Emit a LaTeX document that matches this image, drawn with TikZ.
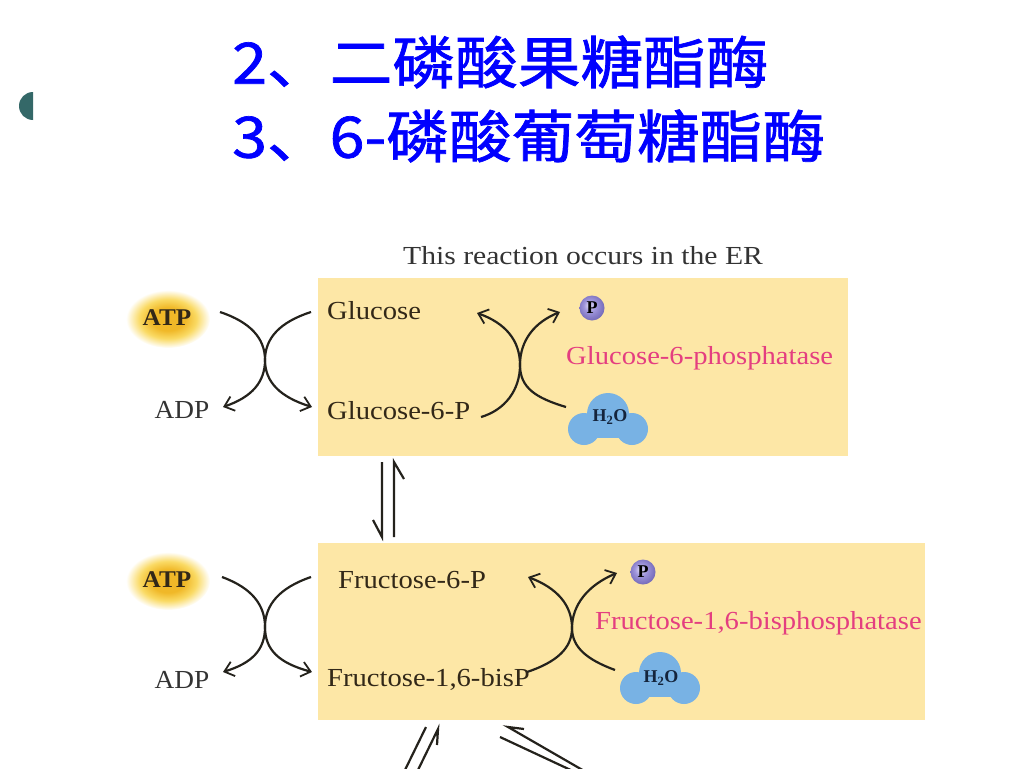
\documentclass[tikz,border=0pt]{standalone}
\usepackage{fontspec}
\setmainfont{Liberation Serif}
\newfontfamily\cjk[FakeBold=1.2]{Noto Sans CJK SC}
\usetikzlibrary{arrows.meta}
\definecolor{boxfill}{RGB}{253,231,166}
\definecolor{enz}{RGB}{228,62,128}
\definecolor{water}{RGB}{120,178,228}
\definecolor{lblc}{RGB}{50,40,24}
\definecolor{arrc}{RGB}{36,34,28}
\definecolor{bulc}{RGB}{52,104,104}
\definecolor{titleblue}{RGB}{0,0,255}
\definecolor{atpc}{RGB}{240,184,40}
\definecolor{atpm}{RGB}{250,218,100}
\definecolor{pin}{RGB}{228,224,248}
\definecolor{pmid}{RGB}{160,150,220}
\definecolor{pout}{RGB}{110,100,180}
\definecolor{h2oc}{RGB}{20,36,60}
\pgfdeclareradialshading{atpglow}{\pgfpoint{0bp}{0bp}}{color(0bp)=(atpc); color(10bp)=(atpc); color(17bp)=(atpm); color(25bp)=(white); color(50bp)=(white)}
\pgfdeclareradialshading{pball}{\pgfpoint{-6bp}{6bp}}{color(0bp)=(pin); color(12bp)=(pmid); color(30bp)=(pout); color(50bp)=(pout)}
\begin{document}
\begin{tikzpicture}[x=1pt,y=-1pt,
  lbl/.style={font=\fontsize{26}{30}\selectfont, text=lblc, inner sep=0pt, anchor=west, xscale=1.1},
  enzlbl/.style={font=\fontsize{26}{30}\selectfont, text=enz, inner sep=0pt, anchor=west, xscale=1.1},
  small/.style={font=\bfseries\fontsize{18}{20}\selectfont, text=h2oc, inner sep=0pt},
  ttl/.style={font=\cjk\fontsize{57}{60}\selectfont, text=titleblue, inner sep=0pt, anchor=west, xscale=1.1},
  crossarr/.style={draw=arrc, line width=2.2pt, -{Straight Barb[length=9pt,width=15pt,line width=1.8pt]}},
  eqline/.style={draw=arrc, line width=2.2pt},
  water/.style={fill=water}
]
\path[use as bounding box] (0,0) rectangle (1024,768);
% bullet
\fill[bulc] (33,92) arc[start angle=90, end angle=270, x radius=14, y radius=-14] -- cycle;
% titles
\node[ttl] (t1) at (232,62) {2、二磷酸果糖酯酶};
\node[ttl] (t2) at (232,136) {3、6-磷酸葡萄糖酯酶};
% caption
\node[font=\fontsize{26}{30}\selectfont, text=black!80, inner sep=0pt, xscale=1.14] (er) at (583,256) {This reaction occurs in the ER};
% boxes
\fill[boxfill] (318,278) rectangle (848,456);
\fill[boxfill] (318,543) rectangle (925,720);
% ATP glows
\shade[shading=atpglow] (168,319) ellipse[x radius=42, y radius=29];
\shade[shading=atpglow] (168,581) ellipse[x radius=42, y radius=29];
\node[font=\bfseries\fontsize{24}{28}\selectfont, text=lblc, inner sep=0pt, xscale=1.05] (atp1) at (167,318) {ATP};
\node[font=\bfseries\fontsize{24}{28}\selectfont, text=lblc, inner sep=0pt, xscale=1.05] (atp2) at (167,580) {ATP};
\node[font=\fontsize{26}{30}\selectfont, text=black!80, inner sep=0pt, xscale=1.05] (adp1) at (182,410) {ADP};
\node[font=\fontsize{26}{30}\selectfont, text=black!80, inner sep=0pt, xscale=1.05] (adp2) at (182,680) {ADP};
% labels
\node[lbl] (glc) at (327,311) {Glucose};
\node[lbl] (g6p) at (327,411) {Glucose-6-P};
\node[lbl] (f6p) at (338,580) {Fructose-6-P};
\node[lbl] (fbp) at (327,679) {Fructose-1,6-bisP};
\node[enzlbl] (g6pase) at (566,358) {Glucose-6-phosphatase};
\node[enzlbl] (fbpase) at (595,623) {Fructose-1,6-bisphosphatase};
% phosphate balls
\shade[shading=pball] (592,308) circle (12.5);
\node[small, text=black] (p1) at (592,308) {P};
\shade[shading=pball] (643,572) circle (12.5);
\node[small, text=black] (p2) at (643,572) {P};
% water blobs
\begin{scope}[shift={(608,418)}]
  \fill[water] (0,-4) circle (21);
  \fill[water] (-24,11) circle (16);
  \fill[water] (24,11) circle (16);
  \fill[water] (-24,0) rectangle (24,20);
\end{scope}
\node[small] (w1) at (610,417) {H\textsubscript{2}O};
\begin{scope}[shift={(660,677)}]
  \fill[water] (0,-4) circle (21);
  \fill[water] (-24,11) circle (16);
  \fill[water] (24,11) circle (16);
  \fill[water] (-24,0) rectangle (24,20);
\end{scope}
\node[small] (w2) at (661,678) {H\textsubscript{2}O};
% upper-left crossing
\coordinate (ula) at (220,312); \coordinate (ulb) at (311,312);
\coordinate (ulc) at (265,360);
\coordinate (uld) at (223,407); \coordinate (ule) at (312,407);
\draw[crossarr] (ula) .. controls (250,322) and (265,338) .. (ulc) .. controls (265,382) and (252,397) .. (uld);
\draw[crossarr] (ulb) .. controls (280,322) and (265,338) .. (ulc) .. controls (265,382) and (280,397) .. (ule);
% upper-right crossing
\coordinate (ura) at (481,417); \coordinate (urb) at (566,407);
\coordinate (urc) at (520,365);
\coordinate (urd) at (477,313); \coordinate (ure) at (560,312);
\draw[crossarr] (ura) .. controls (505,410) and (520,390) .. (urc) .. controls (520,340) and (505,323) .. (urd);
\draw[crossarr] (urb) .. controls (536,398) and (520,388) .. (urc) .. controls (520,340) and (535,322) .. (ure);
% lower-left crossing
\coordinate (lla) at (222,577); \coordinate (llb) at (311,577);
\coordinate (llc) at (265,627);
\coordinate (lld) at (223,672); \coordinate (lle) at (312,672);
\draw[crossarr] (lla) .. controls (252,588) and (265,605) .. (llc) .. controls (265,650) and (252,663) .. (lld);
\draw[crossarr] (llb) .. controls (279,588) and (265,605) .. (llc) .. controls (265,650) and (279,663) .. (lle);
% lower-right crossing
\coordinate (lra) at (527,672); \coordinate (lrb) at (615,670);
\coordinate (lrc) at (572,628);
\coordinate (lrd) at (528,577); \coordinate (lre) at (617,573);
\draw[crossarr] (lra) .. controls (557,662) and (572,648) .. (lrc) .. controls (572,605) and (557,588) .. (lrd);
\draw[crossarr] (lrb) .. controls (588,660) and (572,648) .. (lrc) .. controls (572,605) and (588,585) .. (lre);
% equilibrium between boxes
\coordinate (e1a) at (382,462); \coordinate (e1b) at (382,537);
\coordinate (e2a) at (394,537); \coordinate (e2b) at (394,462);
\draw[eqline] (e1a) -- (e1b) -- ++(-9,-17);
\draw[eqline] (e2a) -- (e2b) -- ++(10,17);
% bottom equilibria (cut off)
\begin{scope}
\clip (0,0) rectangle (1024,768);
\coordinate (b1a) at (404,772); \coordinate (b1b) at (426,727);
\coordinate (b2a) at (417,772); \coordinate (b2b) at (438,729);
\draw[eqline] (b1a) -- (b1b);
\draw[eqline] (b2a) -- (b2b) -- ++(-1,16);
\coordinate (b3a) at (586,772); \coordinate (b3b) at (508,727);
\coordinate (b4a) at (575,772); \coordinate (b4b) at (500,737);
\draw[eqline] (b3a) -- (b3b) -- ++(16,2);
\draw[eqline] (b4a) -- (b4b);
\end{scope}
\end{tikzpicture}
\end{document}
